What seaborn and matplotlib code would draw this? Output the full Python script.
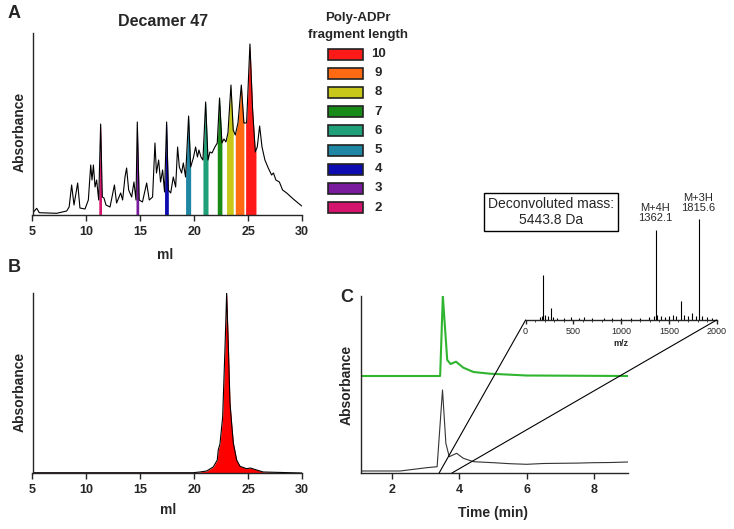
import matplotlib
matplotlib.use("Agg")
import matplotlib.pyplot as plt
import numpy as np
import pandas as pd
import seaborn as sns
from matplotlib.patches import ConnectionPatch, Rectangle

# ---------------------------------------------------------------------------
# Données
# ---------------------------------------------------------------------------
# A : chromatogramme du décamère 47
ml_a = [5.0, 5.39, 5.63, 7.24, 8.17, 8.4, 8.63, 8.85, 9.19, 9.4, 9.87, 10.18,
        10.4, 10.52, 10.65, 10.8, 10.95, 11.14, 11.32, 11.48, 11.63, 11.82,
        12.19, 12.6, 12.8, 13.18, 13.36, 13.58, 13.73, 13.92, 14.2, 14.41,
        14.6, 14.72, 14.9, 15.2, 15.59, 15.83, 16.14, 16.36, 16.5, 16.7,
        16.88, 17.07, 17.25, 17.44, 17.6, 17.82, 18.06, 18.28, 18.46, 18.62,
        18.83, 18.99, 19.2, 19.48, 19.67, 19.92, 20.13, 20.3, 20.44, 20.63,
        20.81, 21.06, 21.28, 21.46, 21.65, 21.92, 22.14, 22.35, 22.57, 22.76,
        22.94, 23.13, 23.41, 23.62, 23.81, 24.06, 24.37, 24.61, 24.86, 25.17,
        25.42, 25.67, 25.85, 26.07, 26.29, 26.56, 26.87, 27.18, 27.35, 27.58,
        27.9, 28.2, 28.58, 29.19, 29.97]
abs_a = [1.7, 6.7, 2.3, 1.7, 4, 8, 30, 10, 32, 7, 6, 15,
         50, 35, 50, 28, 35, 15, 91, 18, 17, 10,
         8, 30, 12, 22, 15, 38, 47, 25, 18, 33,
         15, 93, 15, 13, 32, 15, 18, 72, 42, 55,
         33, 45, 23, 93, 25, 22, 38, 28, 68, 48,
         42, 52, 38, 99, 48, 57, 68, 58, 65, 58,
         55, 113, 55, 63, 62, 68, 72, 117, 72, 76,
         73, 82, 130, 85, 80, 92, 130, 92, 92, 171,
         105, 63, 68, 89, 68, 55, 47, 40, 42, 35,
         33, 25, 22, 16, 9]

fragments = ["10", "9", "8", "7", "6", "5", "4", "3", "2"]
frag_couleurs = ["#ff1a1a", "#ff6a13", "#c8c81a", "#178a17", "#1fa078",
                 "#1f86a3", "#0c0cb0", "#7a1a9c", "#d4156e"]
frag_debut = [24.77, 23.81, 23.0, 22.14, 20.81, 19.2, 17.25, 14.6, 11.15]
frag_fin = [25.73, 24.61, 23.62, 22.57, 21.28, 19.67, 17.6, 14.85, 11.4]

# B : décamère purifié
ml_b = [5.0, 19.9, 20.53, 21.15, 21.77, 22.14, 22.23, 22.39, 22.64, 22.86,
        23.01, 23.17, 23.32, 23.47, 23.63, 23.94, 24.25, 24.86, 25.2, 25.8,
        26.4, 30.0]
abs_b = [0.3, 0.3, 1, 2, 6, 13, 23, 29, 56, 126,
         180, 126, 70, 50, 30, 13, 6.7, 4.3, 5, 3,
         1, 0]

# C : LC-MS (temps en min)
t_vert = [1.05, 3.43, 3.51, 3.64, 3.74, 3.9, 4.12, 4.42, 4.91, 6.0, 9.0]
abs_vert = [97, 97, 177, 113, 109, 111.3, 105.3, 101, 99.3, 97.5, 97]
t_noir = [1.05, 2.24, 3.03, 3.34, 3.5, 3.6, 3.7, 3.92, 4.12, 4.42, 5.01,
          5.5, 6.0, 6.5, 6.99, 7.5, 7.98, 8.5, 9.0]
abs_noir = [2, 2, 5.3, 6.3, 83, 29.7, 16.3, 19.7, 14.7, 11.3, 10.3,
            9.3, 8.7, 9.5, 9.7, 9.9, 10.3, 10.5, 11]

# spectre de masse (encart)
mz = [150, 170, 185, 200, 230, 263, 290, 330, 400, 480, 560, 610, 700, 820,
      900, 1000, 1100, 1200, 1290, 1340, 1362.1, 1380, 1420, 1460, 1500,
      1540, 1580, 1627, 1660, 1700, 1739, 1780, 1815.6, 1850, 1900, 1950]
intensite = [3, 4, 45, 5, 4, 12, 3, 2, 2, 3, 2, 3, 2, 2,
             2, 2, 2, 2, 3, 4, 90, 5, 4, 3, 4,
             5, 4, 19, 5, 4, 7, 4, 101, 4, 3, 2]

# ---------------------------------------------------------------------------
# Style
# ---------------------------------------------------------------------------
sns.set_theme(style="ticks")
plt.rcParams["font.family"] = ["Liberation Sans", "DejaVu Sans"]
plt.rcParams.update({"axes.linewidth": 1.0, "xtick.major.width": 1.0,
                     "xtick.major.size": 4.5, "xtick.labelsize": 9})

W, H = 734, 529
fig = plt.figure(figsize=(W / 100, H / 100), dpi=100)


def px(x0, y_top, x1, y_bot):
    """Rectangle en pixels -> [left, bottom, width, height] en fraction."""
    return [x0 / W, 1 - y_bot / H, (x1 - x0) / W, (y_bot - y_top) / H]


def style_axe(ax):
    sns.despine(ax=ax)
    ax.set_yticks([])
    ax.set_xlabel("")
    ax.set_ylabel("")
    for lab in ax.get_xticklabels():
        lab.set_fontweight("bold")


def txt(x, y, s, **kw):
    fig.text(x / W, 1 - y / H, s, ha="center", va="center", **kw)


# ---------------------------------------------------------------------------
# A
# ---------------------------------------------------------------------------
ax_a = fig.add_axes(px(32.5, 33, 302, 215))
ml_arr, abs_arr = np.array(ml_a), np.array(abs_a)
for lo, hi, c in zip(frag_debut, frag_fin, frag_couleurs):
    masque = (ml_arr > lo) & (ml_arr < hi)
    xs = np.concatenate([[lo], ml_arr[masque], [hi]])
    ax_a.fill_between(xs, 0, np.interp(xs, ml_arr, abs_arr), color=c, lw=0)
sns.lineplot(data=pd.DataFrame({"ml": ml_a, "abs": abs_a}), x="ml", y="abs",
             color="black", lw=0.8, ax=ax_a)
ax_a.set_xlim(5, 30)
ax_a.set_ylim(0, 182)
ax_a.set_xticks([5, 10, 15, 20, 25, 30])
style_axe(ax_a)

txt(14, 13, "A", fontsize=13, fontweight="bold")
txt(163, 22, "Decamer 47", fontsize=11.5, fontweight="bold")
txt(20, 132, "Absorbance", fontsize=10, fontweight="bold", rotation=90)
txt(165, 255, "ml", fontsize=10, fontweight="bold")

# légende manuelle
txt(358, 18, "Poly-ADPr", fontsize=9.5, fontweight="bold")
txt(358, 35, "fragment length", fontsize=9.5, fontweight="bold")
for i, (f, c) in enumerate(zip(fragments, frag_couleurs)):
    yc = 54 + 19.2 * i
    fig.add_artist(Rectangle((328 / W, 1 - (yc + 5.5) / H), 35 / W, 11 / H,
                             transform=fig.transFigure, facecolor=c,
                             edgecolor="#222222", lw=1.2))
    txt(378, yc, f, fontsize=9.5, fontweight="bold")

# ---------------------------------------------------------------------------
# B
# ---------------------------------------------------------------------------
ax_b = fig.add_axes(px(32.5, 293, 302, 473))
ax_b.fill_between(ml_b, 0, abs_b, color="#ff0000", lw=0)
sns.lineplot(data=pd.DataFrame({"ml": ml_b, "abs": abs_b}), x="ml", y="abs",
             color="black", lw=0.8, ax=ax_b)
ax_b.plot([5, 20], [0.3, 0.3], color="#e03030", lw=0.8)
ax_b.set_xlim(5, 30)
ax_b.set_ylim(0, 180)
ax_b.set_xticks([5, 10, 15, 20, 25, 30])
style_axe(ax_b)

txt(14, 268, "B", fontsize=13, fontweight="bold")
txt(20, 392, "Absorbance", fontsize=10, fontweight="bold", rotation=90)
txt(168, 510, "ml", fontsize=10, fontweight="bold")

# ---------------------------------------------------------------------------
# C
# ---------------------------------------------------------------------------
ax_c = fig.add_axes(px(361, 296, 628, 473))
sns.lineplot(data=pd.DataFrame({"t": t_vert, "abs": abs_vert}), x="t",
             y="abs", color="#2fb52f", lw=1.5, ax=ax_c)
sns.lineplot(data=pd.DataFrame({"t": t_noir, "abs": abs_noir}), x="t",
             y="abs", color="#333333", lw=0.8, ax=ax_c)
ax_c.set_xlim(1.079, 9.01)
ax_c.set_ylim(0, 177)
ax_c.set_xticks([2, 4, 6, 8])
style_axe(ax_c)

txt(347, 297, "C", fontsize=13, fontweight="bold")
txt(347, 385, "Absorbance", fontsize=10, fontweight="bold", rotation=90)
txt(493, 513, "Time (min)", fontsize=10, fontweight="bold")

# encart MS
ax_ms = fig.add_axes(px(525.6, 215, 716.6, 320))
ax_ms.vlines(mz, 0, intensite, color="black", lw=0.8)
ax_ms.set_xlim(0, 2000)
ax_ms.set_ylim(0, 105)
ax_ms.set_facecolor("none")
sns.despine(ax=ax_ms, left=True)
ax_ms.set_yticks([])
ax_ms.set_xticks([0, 500, 1000, 1500, 2000])
ax_ms.set_xticks(np.arange(0, 2001, 100), minor=True)
ax_ms.tick_params(axis="x", which="major", labelsize=6.5, length=3, pad=2)
ax_ms.tick_params(axis="x", which="minor", length=1.5, width=0.6)
ax_ms.set_xlabel("m/z", fontsize=6.5, fontweight="bold", labelpad=2)

fig.text(551 / W, 1 - 212 / H, "Deconvoluted mass:\n5443.8 Da", fontsize=10,
         ha="center", va="center", linespacing=1.1,
         bbox=dict(boxstyle="square,pad=0.3", fc="white", ec="black", lw=1))
txt(655, 213, "M+4H\n1362.1", fontsize=8, linespacing=1.1)
txt(698, 203, "M+3H\n1815.6", fontsize=8, linespacing=1.1)

# lignes de zoom
for t0, m0 in [(3.40, 0), (3.78, 2000)]:
    fig.add_artist(ConnectionPatch(xyA=(t0, 0), coordsA=ax_c.transData,
                                   xyB=(m0, 0), coordsB=ax_ms.transData,
                                   color="black", lw=0.8))

fig.savefig("out.png", dpi=100)
